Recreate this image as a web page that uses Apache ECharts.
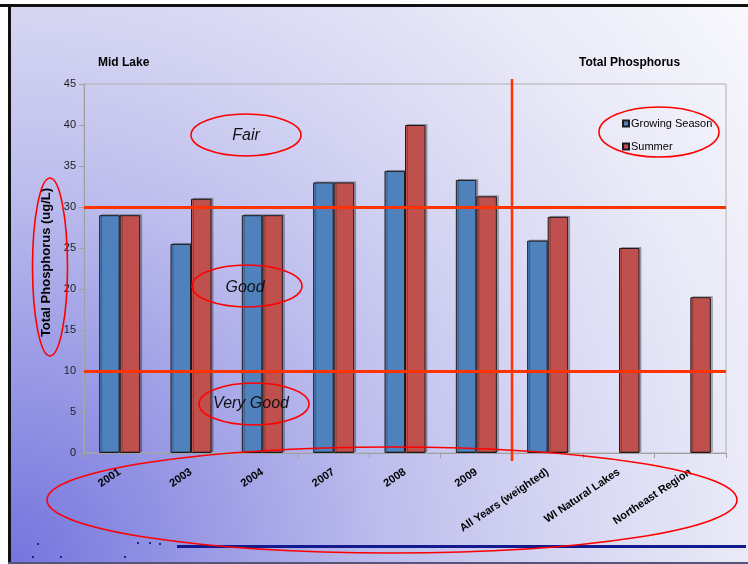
<!DOCTYPE html>
<html>
<head>
<meta charset="utf-8">
<script src="https://cdn.jsdelivr.net/npm/echarts@6/dist/echarts.min.js"></script>
<style>
  html, body { margin: 0; padding: 0; background: #fff; }
  #chart-container { width: 748px; height: 564px; }
</style>
</head>
<body>
<div id="chart-container"></div>
<script>
  // chart data
  var categories = ['2001', '2003', '2004', '2007', '2008', '2009', 'All Years (weighted)', 'WI Natural Lakes', 'Northeast Region'];
  var growingSeason = [29, 25.5, 29, 33, 34.4, 33.3, 25.9, '-', '-'];
  var summer = [29, 31, 29, 33, 40, 31.3, 28.8, 25, 19];
  var thresholds = [30, 10];          // Fair / Good / Very Good limits
  var yMin = 0, yMax = 45, yStep = 5;

  var font = '"Liberation Sans", Arial, sans-serif';

  var dom = document.getElementById('chart-container');
  var myChart = echarts.init(dom, null, { renderer: 'canvas' });

  var barStyle = function (color) {
    return {
      color: color,
      borderColor: '#1c1c1c',
      borderWidth: 1,
      shadowColor: 'rgba(0,0,0,0.25)',
      shadowOffsetX: 2,
      shadowOffsetY: -1
    };
  };

  var options = {
    backgroundColor: '#ffffff',
    animation: false,
    title: [
      { text: 'Mid Lake', left: 93, top: 52, textStyle: { fontFamily: font, fontSize: 12, fontWeight: 'bold', color: '#000' } },
      { text: 'Total Phosphorus', left: 574, top: 52, textStyle: { fontFamily: font, fontSize: 12, fontWeight: 'bold', color: '#000' } }
    ],
    legend: {
      data: ['Growing Season', 'Summer'],
      orient: 'vertical',
      left: 617,
      top: 113,
      icon: 'rect',
      itemWidth: 6,
      itemHeight: 6,
      itemGap: 12,
      textStyle: { fontFamily: font, fontSize: 11, color: '#000', padding: [0, 0, 0, -3] }
    },
    grid: { left: 84, top: 84, right: 22, bottom: 111, show: true, borderColor: '#b0b0b0', borderWidth: 1, backgroundColor: 'transparent' },
    xAxis: {
      type: 'category',
      data: categories,
      axisLine: { lineStyle: { color: '#a0a0a0' } },
      axisTick: { show: true, length: 5, lineStyle: { color: '#a0a0a0' } },
      axisLabel: { rotate: 34, margin: 18, interval: 0, fontFamily: font, fontSize: 11, fontWeight: 'bold', color: '#000' }
    },
    yAxis: {
      type: 'value',
      min: yMin,
      max: yMax,
      interval: yStep,
      name: 'Total Phosphorus (ug/L)',
      nameLocation: 'middle',
      nameGap: 26,
      nameTextStyle: { fontFamily: font, fontSize: 13, fontWeight: 'bold', color: '#000', padding: [0, 0, 0, 12] },
      axisLine: { show: true, lineStyle: { color: '#a0a0a0' } },
      axisTick: { show: true, length: 5, lineStyle: { color: '#a0a0a0' } },
      splitLine: { show: false },
      axisLabel: { fontFamily: font, fontSize: 11, color: '#222', margin: 8 }
    },
    series: [
      {
        name: 'Growing Season',
        type: 'bar',
        data: growingSeason,
        barWidth: 20.5,
        barGap: '0%',
        itemStyle: barStyle('#4f81bd'),
        markLine: {
          silent: true,
          symbol: 'none',
          label: { show: false },
          lineStyle: { color: '#ff3300', width: 3, type: 'solid' },
          data: thresholds.map(function (v) { return { yAxis: v }; })
        },
        z: 3
      },
      {
        name: 'Summer',
        type: 'bar',
        data: summer,
        barWidth: 20.5,
        barGap: '0%',
        itemStyle: barStyle('#c0504d'),
        z: 3
      }
    ]
  };

  myChart.setOption(options);

  // separator between the yearly bars and the summary bars
  var xLeft = myChart.convertToPixel({ xAxisIndex: 0 }, 5);
  var xRight = myChart.convertToPixel({ xAxisIndex: 0 }, 6);
  var sepX = (xLeft + xRight) / 2;
  var yTop = myChart.convertToPixel({ yAxisIndex: 0 }, yMax);
  var yBottom = myChart.convertToPixel({ yAxisIndex: 0 }, yMin);

  var red = '#ff0000';
  var ellipse = function (cx, cy, rx, ry) {
    return { type: 'ellipse', z: 100, silent: true, shape: { cx: cx, cy: cy, rx: rx, ry: ry }, style: { fill: 'none', stroke: red, lineWidth: 1.6 } };
  };
  var note = function (txt, x, y) {
    return { type: 'text', z: 101, silent: true, x: x, y: y,
      style: { text: txt, font: 'italic 16px ' + font, fill: '#111', textAlign: 'center', textVerticalAlign: 'middle', align: 'center', verticalAlign: 'middle' } };
  };
  var dot = function (x, y) {
    return { type: 'rect', z: -5, silent: true, shape: { x: x, y: y, width: 2, height: 2 }, style: { fill: '#1a2290' } };
  };

  var graphics = [
    // slide background, darkest in the lower left corner
    { type: 'rect', z: -10, silent: true, shape: { x: 10, y: 6, width: 738, height: 557 },
      style: { fill: new echarts.graphic.RadialGradient(10, 562, 924, [
        { offset: 0, color: '#7474de' },
        { offset: 0.28, color: '#a6a6e8' },
        { offset: 0.42, color: '#bfbfee' },
        { offset: 0.6, color: '#d6d6f3' },
        { offset: 0.8, color: '#eaeaf8' },
        { offset: 1, color: '#f8f8fd' }
      ], true) } },
    { type: 'rect', z: -9, silent: true, shape: { x: 0, y: 4, width: 748, height: 3 }, style: { fill: '#111' } },
    { type: 'rect', z: -9, silent: true, shape: { x: 8, y: 4, width: 3, height: 560 }, style: { fill: '#111' } },
    { type: 'rect', z: -9, silent: true, shape: { x: 8, y: 562, width: 740, height: 2 }, style: { fill: '#55557a' } },
    { type: 'rect', z: -5, silent: true, shape: { x: 177, y: 545, width: 569, height: 3 }, style: { fill: '#121a8e' } },
    dot(37, 543), dot(32, 556), dot(60, 556), dot(137, 542), dot(149, 542), dot(159, 543), dot(124, 556),
    // separator line
    { type: 'line', z: 50, silent: true, shape: { x1: sepX, y1: yTop - 5, x2: sepX, y2: yBottom + 8 },
      style: { stroke: '#ff3300', lineWidth: 2.5 } },
    // annotations
    ellipse(246, 135, 55, 21), note('Fair', 246, 136),
    ellipse(247, 286, 55, 21), note('Good', 245, 288),
    ellipse(254, 404, 55, 21), note('Very Good', 251, 404),
    ellipse(659, 132, 60, 25),
    ellipse(50, 267, 17.5, 89),
    ellipse(392, 500, 345, 53)
  ];

  myChart.setOption({ graphic: graphics });

  window.addEventListener('resize', function () {
    myChart.resize();
  });
</script>
</body>
</html>
